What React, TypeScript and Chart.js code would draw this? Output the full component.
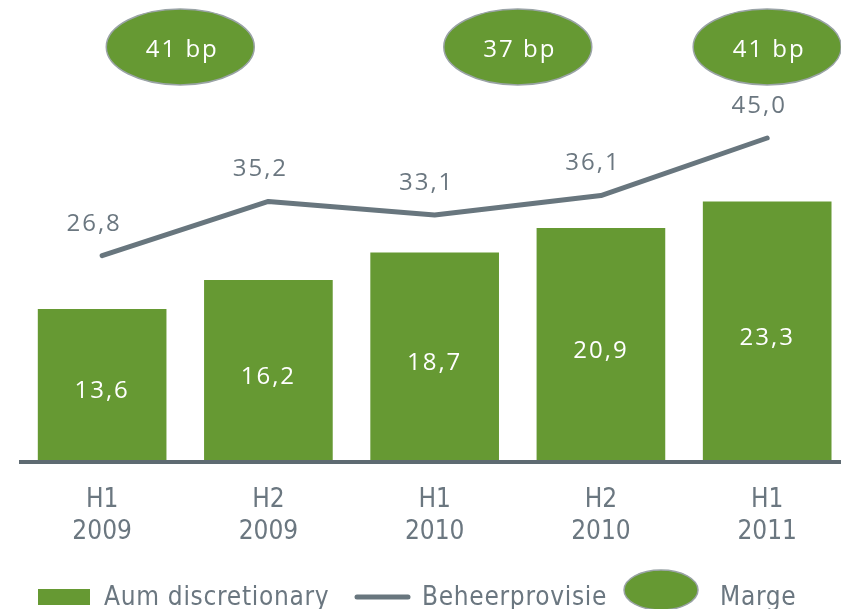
import React, { useEffect, useRef } from "react";
import { Chart, registerables } from "chart.js";

Chart.register(...registerables);

const periods: string[][] = [
  ["H1", "2009"],
  ["H2", "2009"],
  ["H1", "2010"],
  ["H2", "2010"],
  ["H1", "2011"],
];
const aumValues = [13.6, 16.2, 18.7, 20.9, 23.3];
const provisieValues = [26.8, 35.2, 33.1, 36.1, 45.0];
const margeLabels = ["41 bp", "37 bp", "41 bp"];
const margeX = [0.47, 2.5, 4.0];
const margeY = 37.27;

const GREEN = "#669933";
const GRAY = "#68767e";
const TEXT_GRAY = "#6b7780";
const NUM_FONT = "'Open Sans', 'DejaVu Sans', sans-serif";
const NARROW_FONT = "'DejaVu Sans Condensed', 'Liberation Sans', sans-serif";

const fmt = (v: number) => v.toFixed(1).replace(".", ",");

const overlayPlugin = {
  id: "overlay",
  beforeDraw(chart: any) {
    chart.ctx.letterSpacing = "0px";
  },
  afterDatasetsDraw(chart: any) {
    const ctx = chart.ctx as CanvasRenderingContext2D;
    const area = chart.chartArea;
    const xs = chart.scales.x;
    const ys = chart.scales.y;
    ctx.save();
    // axis line
    ctx.strokeStyle = "#5e6b72";
    ctx.lineWidth = 4;
    ctx.beginPath();
    ctx.moveTo(area.left, area.bottom + 2);
    ctx.lineTo(chart.width, area.bottom + 2);
    ctx.stroke();

    // bar labels
    ctx.font = `24px ${NUM_FONT}`;
    (ctx as any).letterSpacing = "2px";
    ctx.textAlign = "center";
    ctx.textBaseline = "middle";
    const barMeta = chart.getDatasetMeta(0);
    barMeta.data.forEach((el: any, i: number) => {
      ctx.fillStyle = "#ffffff";
      ctx.fillText(fmt(aumValues[i]), el.x, (el.y + el.base) / 2 + 7);
    });
    // line labels
    const lineMeta = chart.getDatasetMeta(1);
    lineMeta.data.forEach((el: any, i: number) => {
      ctx.fillStyle = TEXT_GRAY;
      ctx.fillText(fmt(provisieValues[i]), el.x - 8, el.y - 32);
    });

    // marge ellipses
    margeLabels.forEach((lab, i) => {
      const cx = xs.getPixelForValue(margeX[i]);
      const cy = ys.getPixelForValue(margeY);
      ctx.beginPath();
      ctx.ellipse(cx, cy, 74, 38, 0, 0, Math.PI * 2);
      ctx.fillStyle = GREEN;
      ctx.fill();
      ctx.strokeStyle = "#9aa3a6";
      ctx.lineWidth = 1.5;
      ctx.stroke();
      ctx.fillStyle = "#ffffff";
      ctx.fillText(lab, cx + 2, cy + 3);
    });

    // legend
    const ly = 598;
    ctx.fillStyle = GREEN;
    ctx.fillRect(38, 589, 52, 16);
    ctx.font = `26px ${NARROW_FONT}`;
    (ctx as any).letterSpacing = "0.7px";
    ctx.textAlign = "left";
    ctx.fillStyle = TEXT_GRAY;
    ctx.fillText("Aum discretionary", 104, ly);
    ctx.strokeStyle = GRAY;
    ctx.lineWidth = 5;
    ctx.lineCap = "round";
    ctx.beginPath();
    ctx.moveTo(357, 597);
    ctx.lineTo(408, 597);
    ctx.stroke();
    ctx.fillStyle = TEXT_GRAY;
    ctx.fillText("Beheerprovisie", 422, ly);
    ctx.beginPath();
    ctx.ellipse(661, 590, 37, 20, 0, 0, Math.PI * 2);
    ctx.fillStyle = GREEN;
    ctx.fill();
    ctx.strokeStyle = "#9aa3a6";
    ctx.lineWidth = 1.5;
    ctx.stroke();
    ctx.fillStyle = TEXT_GRAY;
    ctx.fillText("Marge", 720, ly);
    ctx.restore();
  },
};

export default function App() {
  const ref = useRef<HTMLCanvasElement | null>(null);
  useEffect(() => {
    if (!ref.current) return;
    const chart = new Chart(ref.current, {
      type: "bar",
      data: {
        datasets: [
          {
            type: "bar",
            label: "Aum discretionary",
            data: aumValues.map((v, i) => ({ x: i, y: v })),
            backgroundColor: GREEN,
            barThickness: 128,
            yAxisID: "y",
            order: 2,
          } as any,
          {
            type: "line",
            label: "Beheerprovisie",
            data: provisieValues.map((v, i) => ({ x: i, y: v })),
            borderColor: GRAY,
            borderWidth: 5,
            pointRadius: 0,
            borderCapStyle: "round",
            borderJoinStyle: "round",
            tension: 0,
            yAxisID: "y2",
            order: 1,
          } as any,
        ],
      },
      options: {
        responsive: false,
        animation: false,
        layout: { padding: { left: 19, right: 0, top: 0, bottom: 0 } },
        plugins: {
          legend: { display: false },
          tooltip: { enabled: false },
        },
        scales: {
          x: {
            type: "linear",
            offset: false,
            min: -0.5,
            max: 4.444,
            grid: { display: false, drawTicks: false, offset: false },
            border: { display: false },
            afterFit: (scale: any) => {
              scale.height = 149;
            },
            afterBuildTicks: (scale: any) => {
              scale.ticks = periods.map((_, i) => ({ value: i }));
            },
            ticks: {
              autoSkip: false,
              maxRotation: 0,
              padding: 25,
              color: TEXT_GRAY,
              font: { family: NARROW_FONT, size: 26 },
              callback: (value: any) => periods[value] ?? "",
            },
          },
          y: {
            display: false,
            min: 0,
            max: 41.5,
          },
          y2: {
            display: false,
            min: -4.79,
            max: 66.34,
          },
        },
      },
      plugins: [overlayPlugin],
    } as any);
    return () => chart.destroy();
  }, []);
  return (
    <div style={{ position: "fixed", left: 0, top: 0, width: 841, height: 609 }}>
      <canvas ref={ref} width={841} height={609} style={{ display: "block" }} />
    </div>
  );
}
